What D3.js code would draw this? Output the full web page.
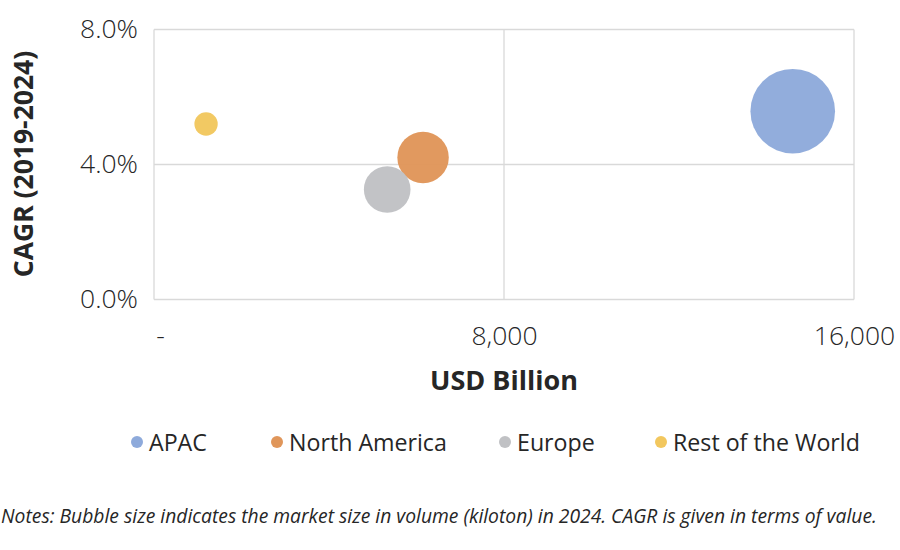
<!DOCTYPE html>
<html><head><meta charset="utf-8">
<script src="https://cdn.jsdelivr.net/npm/d3@7/dist/d3.min.js"></script>
<style>body{margin:0;background:#fff;}svg{display:block;font-family:"Open Sans",sans-serif;}</style>
</head><body>
<svg id="c" width="900" height="550"></svg>
<script>
const regions = ["APAC", "North America", "Europe", "Rest of the World"];
const marketValue = [14600, 6150, 5330, 1190];      // USD Billion
const cagr = [0.0558, 0.0421, 0.0326, 0.0520];       // CAGR 2019-2024
const volume = [5000, 1850, 1520, 380];              // kiloton (bubble size)
const colors = ["#8eaadb", "#e0965a", "#c0c1c4", "#f2c75e"];
const xTicks = [0, 8000, 16000];
const yTicks = [0, 0.04, 0.08];
const note = "Notes: Bubble size indicates the market size in volume (kiloton) in 2024. CAGR is given in terms of value.";

const svg = d3.select("#c");
const L = 154, R = 854, T = 29.5, B = 299.5;
const x = d3.scaleLinear().domain([0, 16000]).range([L, R]);
const y = d3.scaleLinear().domain([0, 0.08]).range([B, T]);
const r = d3.scaleSqrt().domain([0, d3.max(volume)]).range([0, 42.3]);
const grid = "#d9d9d9", txt = "#262626";

// grid
svg.append("g").selectAll("line").data(yTicks).join("line")
  .attr("x1", L).attr("x2", R).attr("y1", d => y(d)).attr("y2", d => y(d))
  .attr("stroke", grid).attr("stroke-width", 1.3);
svg.append("g").selectAll("line").data(xTicks).join("line")
  .attr("x1", d => x(d)).attr("x2", d => x(d)).attr("y1", T).attr("y2", B)
  .attr("stroke", grid).attr("stroke-width", 1.3);

// axes labels via d3 axes
const yAxis = svg.append("g").attr("transform", `translate(${L},0)`)
  .call(d3.axisLeft(y).tickValues(yTicks).tickFormat(d3.format(".1%")).tickSize(0).tickPadding(16));
const xAxis = svg.append("g").attr("transform", `translate(0,${B})`)
  .call(d3.axisBottom(x).tickValues(xTicks).tickFormat(d => d === 0 ? "-" : d3.format(",")(d)).tickSize(0).tickPadding(27));
[yAxis, xAxis].forEach(a => {
  a.select(".domain").remove();
  a.selectAll("text").attr("font-size", 26.5).attr("fill", txt).attr("font-family", "Open Sans").attr("font-weight", 300);
});
xAxis.selectAll("text").filter(d => d === 0).attr("dx", 6);

// bubbles
const data = regions.map((n, i) => ({n, x: marketValue[i], y: cagr[i], v: volume[i], c: colors[i]}));
svg.append("g").selectAll("circle").data(data.slice().sort((a, b) => b.v - a.v)).join("circle")
  .attr("cx", d => x(d.x)).attr("cy", d => y(d.y)).attr("r", d => r(d.v))
  .attr("fill", d => d.c).attr("fill-opacity", 0.97);

// axis titles
svg.append("text").attr("x", (L + R) / 2).attr("y", 390).attr("text-anchor", "middle")
  .attr("font-size", 27).attr("font-weight", 700).attr("fill", txt).text("USD Billion");
svg.append("text").attr("transform", `translate(33,164) rotate(-90)`).attr("text-anchor", "middle")
  .attr("font-size", 26.5).attr("font-weight", 700).attr("fill", txt).text("CAGR (2019-2024)");

// legend
const legX = [137, 277, 505, 661];
const lg = svg.append("g").selectAll("g").data(data).join("g")
  .attr("transform", (d, i) => `translate(${legX[i]},442)`);
lg.append("circle").attr("r", 6).attr("fill", d => d.c);
lg.append("text").attr("x", 12).attr("y", 8.5).attr("font-size", 23.2).attr("font-weight", 400).attr("fill", txt).text(d => d.n);

// note
svg.append("text").attr("x", 1).attr("y", 523).attr("font-size", 19.3).attr("font-style", "italic")
  .attr("fill", txt).text(note);
</script>
</body></html>
